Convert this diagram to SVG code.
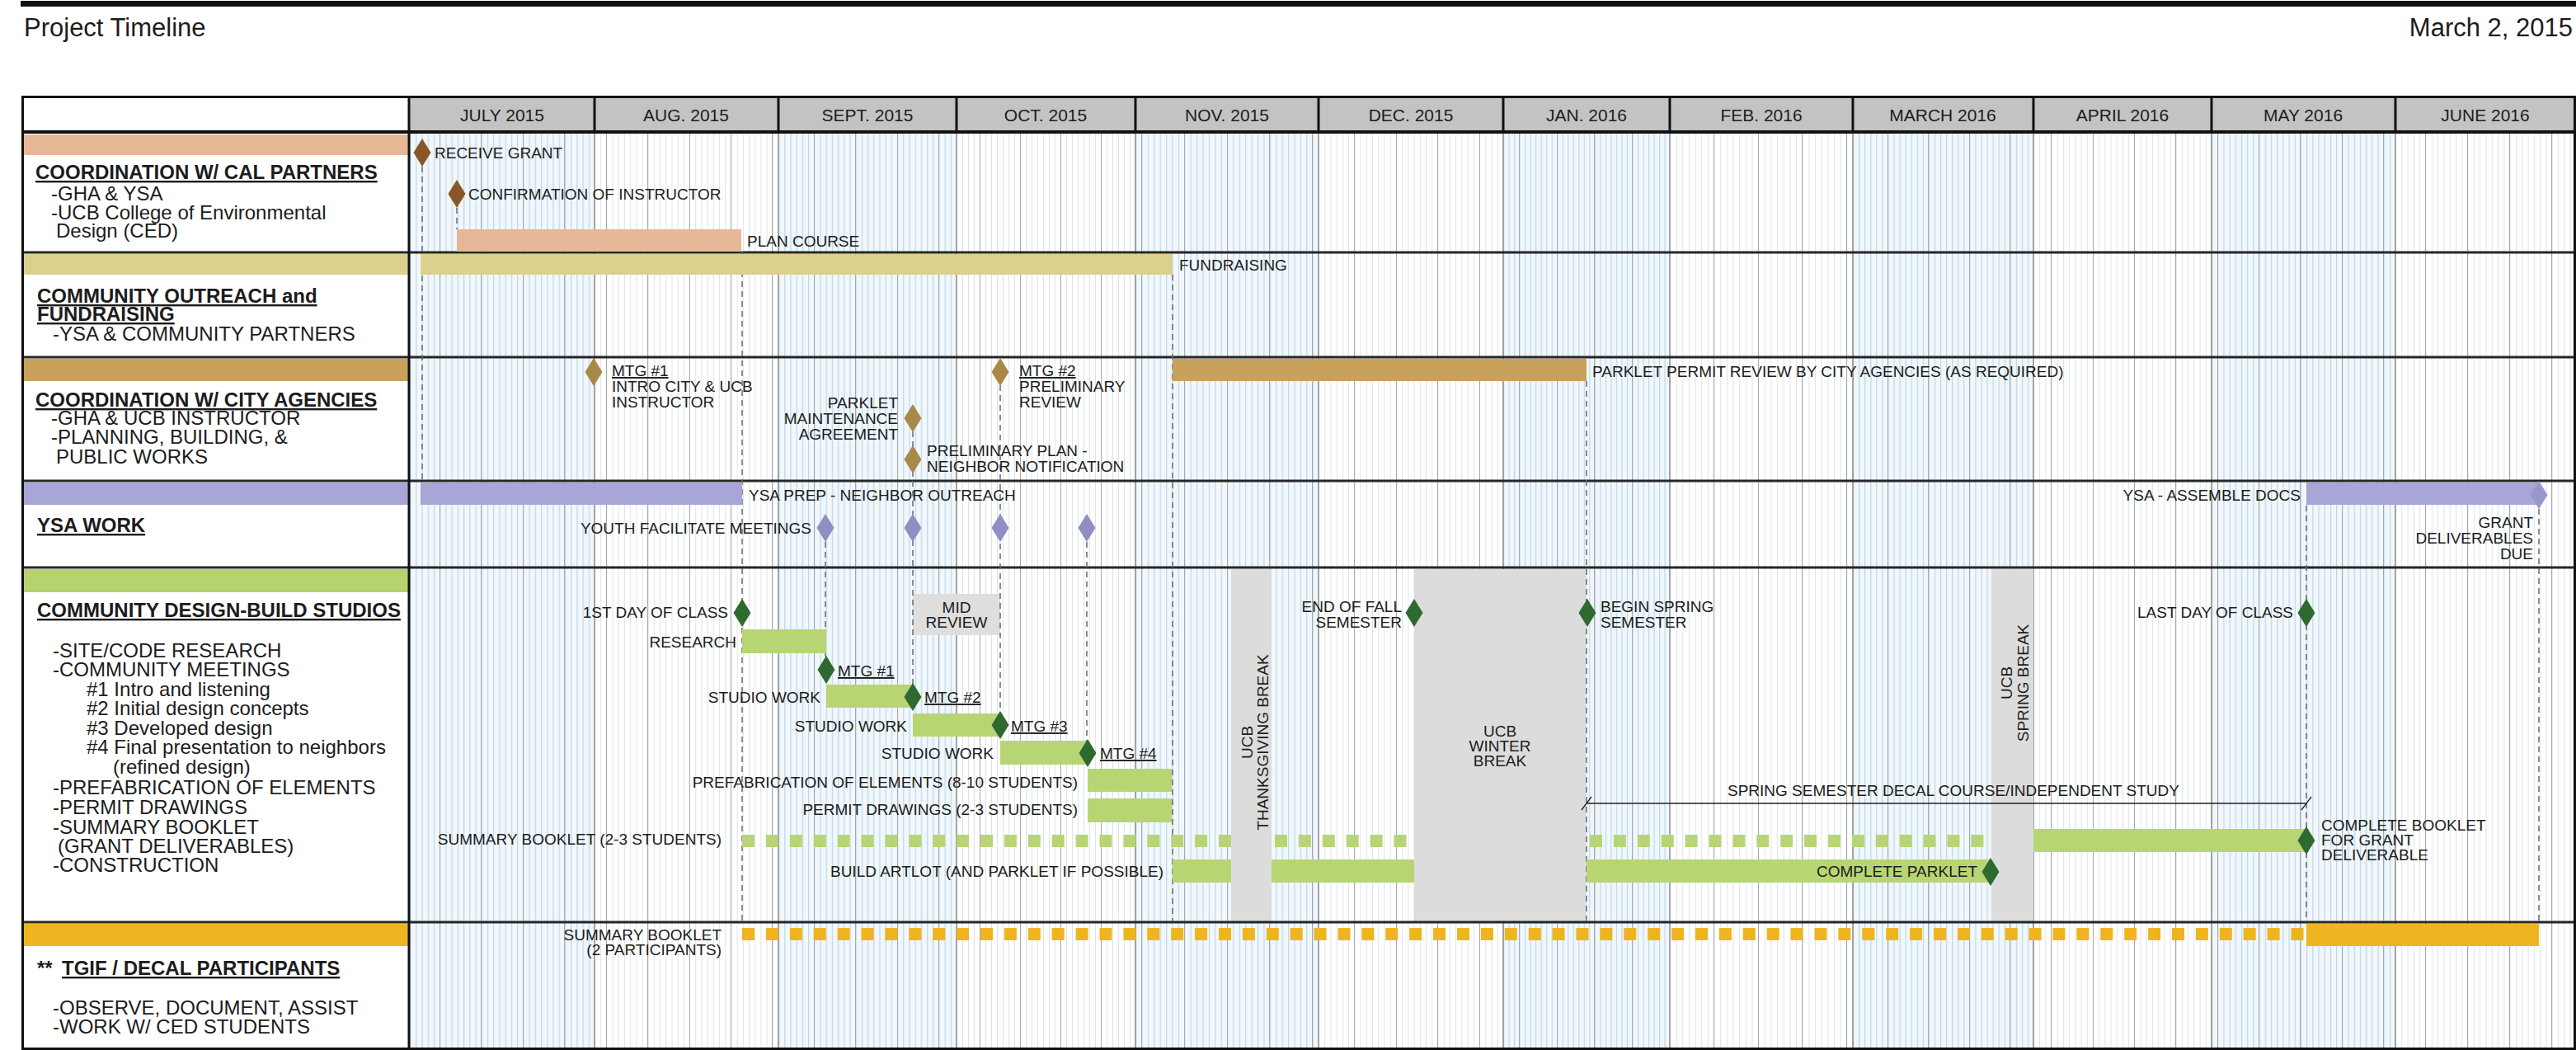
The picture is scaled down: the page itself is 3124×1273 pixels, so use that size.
<svg xmlns="http://www.w3.org/2000/svg" width="3124" height="1273" viewBox="0 0 3124 1273">
<style>
.t{font-family:"Liberation Sans",Arial,sans-serif;font-size:19px;fill:#1c1c1c}
.e{text-anchor:end}
.m{text-anchor:middle}
.u{text-decoration:underline}
.h{font-size:24px}
.hb{font-size:24px;font-weight:bold;text-decoration:underline}
.mon{font-size:21px;text-anchor:middle}
.conn{stroke:#6a6a6a;stroke-width:1.5;stroke-dasharray:7 5;fill:none}
.sep{stroke:#262626;stroke-width:3}
.brk{fill:#dcdcdc}
.gbar{fill:#b8d574}
</style>
<defs>
<path id="dia" d="M0,-17 L10.5,0 L0,17 L-10.5,0Z"/>
<pattern id="pJul" x="497" y="0" width="7.226" height="10" patternUnits="userSpaceOnUse"><rect width="1.2" height="10" fill="#bdd8e8"/></pattern>
<pattern id="pAug" x="721" y="0" width="7.194" height="10" patternUnits="userSpaceOnUse"><rect width="1" height="10" fill="#dde3e7"/></pattern>
<pattern id="pSep" x="944" y="0" width="7.2" height="10" patternUnits="userSpaceOnUse"><rect width="1.2" height="10" fill="#bdd8e8"/></pattern>
<pattern id="pOct" x="1160" y="0" width="7.0" height="10" patternUnits="userSpaceOnUse"><rect width="1" height="10" fill="#dde3e7"/></pattern>
<pattern id="pNov" x="1377" y="0" width="7.4" height="10" patternUnits="userSpaceOnUse"><rect width="1.2" height="10" fill="#bdd8e8"/></pattern>
<pattern id="pDec" x="1599" y="0" width="7.226" height="10" patternUnits="userSpaceOnUse"><rect width="1" height="10" fill="#dde3e7"/></pattern>
<pattern id="pJan" x="1823" y="0" width="6.516" height="10" patternUnits="userSpaceOnUse"><rect width="1.2" height="10" fill="#bdd8e8"/></pattern>
<pattern id="pFeb" x="2025" y="0" width="7.655" height="10" patternUnits="userSpaceOnUse"><rect width="1" height="10" fill="#dde3e7"/></pattern>
<pattern id="pMar" x="2247" y="0" width="7.065" height="10" patternUnits="userSpaceOnUse"><rect width="1.2" height="10" fill="#bdd8e8"/></pattern>
<pattern id="pApr" x="2466" y="0" width="7.2" height="10" patternUnits="userSpaceOnUse"><rect width="1" height="10" fill="#dde3e7"/></pattern>
<pattern id="pMay" x="2682" y="0" width="7.194" height="10" patternUnits="userSpaceOnUse"><rect width="1.2" height="10" fill="#bdd8e8"/></pattern>
<pattern id="pJun" x="2905" y="0" width="7.3" height="10" patternUnits="userSpaceOnUse"><rect width="1" height="10" fill="#dde3e7"/></pattern>
</defs>
<rect width="3124" height="1273" fill="#ffffff"/>
<rect x="25" y="1" width="3099" height="7" fill="#111"/>
<text class="t" x="29" y="44" style="font-size:31px">Project Timeline</text>
<text class="t e" x="3120" y="44" style="font-size:31px">March 2, 2015</text>

<g id="grid">
<g fill="#f1f7fb">
<rect x="497" y="162" width="224" height="1110"/>
<rect x="944" y="162" width="216" height="1110"/>
<rect x="1377" y="162" width="222" height="1110"/>
<rect x="1823" y="162" width="202" height="1110"/>
<rect x="2247" y="162" width="219" height="1110"/>
<rect x="2682" y="162" width="223" height="1110"/>
</g>
<rect x="497" y="162" width="224" height="1110" fill="url(#pJul)"/>
<rect x="721" y="162" width="223" height="1110" fill="url(#pAug)"/>
<rect x="944" y="162" width="216" height="1110" fill="url(#pSep)"/>
<rect x="1160" y="162" width="217" height="1110" fill="url(#pOct)"/>
<rect x="1377" y="162" width="222" height="1110" fill="url(#pNov)"/>
<rect x="1599" y="162" width="224" height="1110" fill="url(#pDec)"/>
<rect x="1823" y="162" width="202" height="1110" fill="url(#pJan)"/>
<rect x="2025" y="162" width="222" height="1110" fill="url(#pFeb)"/>
<rect x="2247" y="162" width="219" height="1110" fill="url(#pMar)"/>
<rect x="2466" y="162" width="216" height="1110" fill="url(#pApr)"/>
<rect x="2682" y="162" width="223" height="1110" fill="url(#pMay)"/>
<rect x="2905" y="162" width="219" height="1110" fill="url(#pJun)"/>
<path stroke="#a8a8a8" stroke-width="1" fill="none" d="M533.5 162V1272M583.5 162V1272M634.5 162V1272M684.5 162V1272M735.5 162V1272M785.5 162V1272M836.5 162V1272M886.5 162V1272M936.5 162V1272M987.5 162V1272M1037.5 162V1272M1088.5 162V1272M1138.5 162V1272M1188.5 162V1272M1237.5 162V1272M1286.5 162V1272M1335.5 162V1272M1384.5 162V1272M1436.5 162V1272M1488.5 162V1272M1539.5 162V1272M1591.5 162V1272M1642.5 162V1272M1693.5 162V1272M1743.5 162V1272M1794.5 162V1272M1842.5 162V1272M1888.5 162V1272M1933.5 162V1272M1979.5 162V1272M2078.5 162V1272M2132.5 162V1272M2185.5 162V1272M2239.5 162V1272M2289.5 162V1272M2338.5 162V1272M2388.5 162V1272M2437.5 162V1272M2487.5 162V1272M2538.5 162V1272M2588.5 162V1272M2638.5 162V1272M2689.5 162V1272M2739.5 162V1272M2789.5 162V1272M2840.5 162V1272M2890.5 162V1272M2941.5 162V1272M2992.5 162V1272M3043.5 162V1272M3094.5 162V1272"/>
<path stroke="#8c8c8c" stroke-width="1.5" fill="none" d="M721 162V1272M944 162V1272M1160 162V1272M1377 162V1272M1599 162V1272M1823 162V1272M2025 162V1272M2247 162V1272M2466 162V1272M2682 162V1272M2905 162V1272"/>
</g>

<g id="breaks">
<rect class="brk" x="1493" y="690" width="49" height="427"/>
<rect class="brk" x="1715" y="690" width="209" height="427"/>
<rect class="brk" x="2415" y="690" width="51" height="427"/>
<rect x="1107" y="720" width="106" height="50" fill="#dedede"/>
<text class="t m" x="1160" y="743">MID</text>
<text class="t m" x="1160" y="761">REVIEW</text>
<text class="t" transform="translate(1519,900) rotate(-90)" text-anchor="middle">UCB</text>
<text class="t" transform="translate(1538,900) rotate(-90)" text-anchor="middle">THANKSGIVING BREAK</text>
<text class="t m" x="1819" y="893">UCB</text>
<text class="t m" x="1819" y="911">WINTER</text>
<text class="t m" x="1819" y="929">BREAK</text>
<text class="t" transform="translate(2440,828) rotate(-90)" text-anchor="middle">UCB</text>
<text class="t" transform="translate(2460,828) rotate(-90)" text-anchor="middle">SPRING BREAK</text>
</g>

<g id="left-column">
<rect x="29" y="162" width="467" height="1110" fill="#ffffff"/>
<rect x="29" y="163" width="467" height="25" fill="#e6b898"/>
<rect x="29" y="308" width="467" height="25" fill="#dcd08e"/>
<rect x="29" y="435" width="467" height="27" fill="#c8a15b"/>
<rect x="29" y="585" width="467" height="27" fill="#a8a6d6"/>
<rect x="29" y="690" width="467" height="28" fill="#b6d36f"/>
<rect x="29" y="1120" width="467" height="27" fill="#efb520"/>
</g>

<g id="header">
<rect x="29" y="118" width="467" height="42" fill="#ffffff"/>
<rect x="497" y="118" width="2627" height="42" fill="#c3c3c3"/>
<path stroke="#111" stroke-width="3" d="M721 117V160M944 117V160M1160 117V160M1377 117V160M1599 117V160M1823 117V160M2025 117V160M2247 117V160M2466 117V160M2682 117V160M2905 117V160"/>
<text class="t mon" x="609" y="147">JULY 2015</text>
<text class="t mon" x="832" y="147">AUG. 2015</text>
<text class="t mon" x="1052" y="147">SEPT. 2015</text>
<text class="t mon" x="1268" y="147">OCT. 2015</text>
<text class="t mon" x="1488" y="147">NOV. 2015</text>
<text class="t mon" x="1711" y="147">DEC. 2015</text>
<text class="t mon" x="1924" y="147">JAN. 2016</text>
<text class="t mon" x="2136" y="147">FEB. 2016</text>
<text class="t mon" x="2356" y="147">MARCH 2016</text>
<text class="t mon" x="2574" y="147">APRIL 2016</text>
<text class="t mon" x="2793" y="147">MAY 2016</text>
<text class="t mon" x="3014" y="147">JUNE 2016</text>
</g>

<g id="frame">
<path class="sep" d="M27 306H3124M27 433H3124M27 583H3124M27 688H3124M27 1118H3124"/>
<path stroke="#111" stroke-width="4" fill="none" d="M27 160H3124"/>
<path stroke="#111" stroke-width="3" fill="none" d="M27 117.5H3124M27.5 116V1273M496 116V1273M3122.5 116V1273M27 1271.5H3124"/>
</g>

<g id="connectors">
<path class="conn" d="M512 202V585"/>
<path class="conn" d="M554 252V278"/>
<path class="conn" d="M900 305V1117"/>
<path class="conn" d="M1422 333V1117"/>
<path class="conn" d="M1001 657V797"/>
<path class="conn" d="M1107 523V830"/>
<path class="conn" d="M1213 467V864"/>
<path class="conn" d="M1318 657V898"/>
<path class="conn" d="M1924 462V1117"/>
<path class="conn" d="M2797 613V1117"/>
<path class="conn" d="M3079 617V1117"/>
</g>

<g id="cal-partners">
<text class="t hb" x="43" y="217">COORDINATION W/ CAL PARTNERS</text>
<text class="t h" x="62" y="243">-GHA &amp; YSA</text>
<text class="t h" x="62" y="266">-UCB College of Environmental</text>
<text class="t h" x="68" y="288">Design (CED)</text>
<g id="receive-grant"><use href="#dia" x="512" y="185" fill="#8a5628"/><text class="t" x="527" y="192">RECEIVE GRANT</text></g>
<g id="confirm-instructor"><use href="#dia" x="554" y="235" fill="#8a5628"/><text class="t" x="568" y="242">CONFIRMATION OF INSTRUCTOR</text></g>
<g id="plan-course"><rect x="554" y="278" width="345" height="27" fill="#e6b898"/><text class="t" x="906" y="299">PLAN COURSE</text></g>
</g>

<g id="outreach">
<text class="t hb" x="45" y="367">COMMUNITY OUTREACH and</text>
<text class="t hb" x="45" y="389">FUNDRAISING</text>
<text class="t h" x="64" y="413">-YSA &amp; COMMUNITY PARTNERS</text>
<g id="fundraising"><rect x="510" y="308" width="912" height="25" fill="#dcd08e"/><text class="t" x="1430" y="328">FUNDRAISING</text></g>
</g>

<g id="city-agencies">
<text class="t hb" x="43" y="493">COORDINATION W/ CITY AGENCIES</text>
<text class="t h" x="62" y="515">-GHA &amp; UCB INSTRUCTOR</text>
<text class="t h" x="62" y="538">-PLANNING, BUILDING, &amp;</text>
<text class="t h" x="68" y="562">PUBLIC WORKS</text>
<g id="city-mtg1"><use href="#dia" x="720" y="451" fill="#a88948"/><text class="t u" x="742" y="456">MTG #1</text><text class="t" x="742" y="475">INTRO CITY &amp; UCB</text><text class="t" x="742" y="494">INSTRUCTOR</text></g>
<g id="maintenance"><use href="#dia" x="1107" y="507" fill="#a88948"/><text class="t e" x="1089" y="495">PARKLET</text><text class="t e" x="1089" y="514">MAINTENANCE</text><text class="t e" x="1089" y="533">AGREEMENT</text></g>
<g id="prelim-plan"><use href="#dia" x="1107" y="557" fill="#a88948"/><text class="t" x="1124" y="553">PRELIMINARY PLAN -</text><text class="t" x="1124" y="572">NEIGHBOR NOTIFICATION</text></g>
<g id="city-mtg2"><use href="#dia" x="1213" y="451" fill="#a88948"/><text class="t u" x="1236" y="456">MTG #2</text><text class="t" x="1236" y="475">PRELIMINARY</text><text class="t" x="1236" y="494">REVIEW</text></g>
<g id="permit-review"><rect x="1422" y="435" width="502" height="27" fill="#c8a15b"/><text class="t" x="1931" y="457">PARKLET PERMIT REVIEW BY CITY AGENCIES (AS REQUIRED)</text></g>
</g>

<g id="ysa-work">
<text class="t hb" x="45" y="645">YSA WORK</text>
<g id="ysa-prep"><rect x="510" y="585" width="390" height="27" fill="#a8a6d6"/><text class="t" x="908" y="607">YSA PREP - NEIGHBOR OUTREACH</text></g>
<g id="youth-meetings"><text class="t e" x="984" y="647">YOUTH FACILITATE MEETINGS</text>
<use href="#dia" x="1001" y="640" fill="#908ec2"/><use href="#dia" x="1107" y="640" fill="#908ec2"/><use href="#dia" x="1213" y="640" fill="#908ec2"/><use href="#dia" x="1318" y="640" fill="#908ec2"/></g>
<g id="assemble-docs"><rect x="2797" y="585" width="282" height="27" fill="#a8a6d6"/><use href="#dia" x="3079" y="600" fill="#9a98cb"/><text class="t e" x="2790" y="607">YSA - ASSEMBLE DOCS</text></g>
<g id="grant-due"><text class="t e" x="3072" y="640">GRANT</text><text class="t e" x="3072" y="659">DELIVERABLES</text><text class="t e" x="3072" y="678">DUE</text></g>
</g>

<g id="studios">
<text class="t hb" x="45" y="748">COMMUNITY DESIGN-BUILD STUDIOS</text>
<text class="t h" x="64" y="797">-SITE/CODE RESEARCH</text>
<text class="t h" x="64" y="820">-COMMUNITY MEETINGS</text>
<text class="t h" x="105" y="844">#1 Intro and listening</text>
<text class="t h" x="105" y="867">#2 Initial design concepts</text>
<text class="t h" x="105" y="891">#3 Developed design</text>
<text class="t h" x="105" y="914">#4 Final presentation to neighbors</text>
<text class="t h" x="137" y="938">(refined design)</text>
<text class="t h" x="64" y="963">-PREFABRICATION OF ELEMENTS</text>
<text class="t h" x="64" y="987">-PERMIT DRAWINGS</text>
<text class="t h" x="64" y="1011">-SUMMARY BOOKLET</text>
<text class="t h" x="70" y="1034">(GRANT DELIVERABLES)</text>
<text class="t h" x="64" y="1057">-CONSTRUCTION</text>

<g id="research"><rect class="gbar" x="900" y="763" width="102" height="29"/><text class="t e" x="893" y="785">RESEARCH</text></g>
<g id="studio1"><rect class="gbar" x="1002" y="830" width="105" height="28"/><text class="t e" x="995" y="852">STUDIO WORK</text></g>
<g id="studio2"><rect class="gbar" x="1107" y="865" width="106" height="28"/><text class="t e" x="1100" y="887">STUDIO WORK</text></g>
<g id="studio3"><rect class="gbar" x="1213" y="898" width="106" height="29"/><text class="t e" x="1205" y="920">STUDIO WORK</text></g>
<g id="prefab"><rect class="gbar" x="1319" y="932" width="102" height="28"/><text class="t e" x="1307" y="955">PREFABRICATION OF ELEMENTS (8-10 STUDENTS)</text></g>
<g id="permit-drawings"><rect class="gbar" x="1319" y="968" width="102" height="29"/><text class="t e" x="1307" y="988">PERMIT DRAWINGS (2-3 STUDENTS)</text></g>
<g id="summary-booklet">
<path stroke="#b8d574" stroke-width="15" stroke-dasharray="15 13.9" fill="none" d="M900 1019.5H1493M1546 1019.5H1715M1928 1019.5H2415"/>
<rect class="gbar" x="2466" y="1005" width="331" height="28"/>
<text class="t e" x="875" y="1024">SUMMARY BOOKLET (2-3 STUDENTS)</text>
</g>
<g id="build"><rect class="gbar" x="1422" y="1042" width="71" height="28"/><rect class="gbar" x="1542" y="1042" width="173" height="28"/><rect class="gbar" x="1924" y="1042" width="490" height="28"/>
<text class="t e" x="1411" y="1063">BUILD ARTLOT (AND PARKLET IF POSSIBLE)</text></g>
<g id="decal-course"><path stroke="#222" stroke-width="1.3" fill="none" d="M1924 974H2797M1918 982L1930 966M2791 982L2803 966"/>
<text class="t" x="2095" y="965">SPRING SEMESTER DECAL COURSE/INDEPENDENT STUDY</text></g>

<g id="first-day"><use href="#dia" x="900" y="743" fill="#2e6930"/><text class="t e" x="883" y="749">1ST DAY OF CLASS</text></g>
<g id="studio-mtg1"><use href="#dia" x="1002" y="812" fill="#2e6930"/><text class="t u" x="1016" y="820">MTG #1</text></g>
<g id="studio-mtg2"><use href="#dia" x="1107" y="845" fill="#2e6930"/><text class="t u" x="1121" y="852">MTG #2</text></g>
<g id="studio-mtg3"><use href="#dia" x="1213" y="879" fill="#2e6930"/><text class="t u" x="1226" y="887">MTG #3</text></g>
<g id="studio-mtg4"><use href="#dia" x="1319" y="913" fill="#2e6930"/><text class="t u" x="1334" y="920">MTG #4</text></g>
<g id="end-fall"><use href="#dia" x="1715" y="743" fill="#2e6930"/><text class="t e" x="1700" y="742">END OF FALL</text><text class="t e" x="1700" y="761">SEMESTER</text></g>
<g id="begin-spring"><use href="#dia" x="1925" y="743" fill="#2e6930"/><text class="t" x="1941" y="742">BEGIN SPRING</text><text class="t" x="1941" y="761">SEMESTER</text></g>
<g id="last-day"><use href="#dia" x="2797" y="743" fill="#2e6930"/><text class="t e" x="2781" y="749">LAST DAY OF CLASS</text></g>
<g id="complete-parklet"><use href="#dia" x="2414" y="1057" fill="#2e6930"/><text class="t e" x="2398" y="1063">COMPLETE PARKLET</text></g>
<g id="complete-booklet"><use href="#dia" x="2797" y="1019" fill="#2e6930"/><text class="t" x="2815" y="1007">COMPLETE BOOKLET</text><text class="t" x="2815" y="1025">FOR GRANT</text><text class="t" x="2815" y="1043">DELIVERABLE</text></g>
</g>

<g id="tgif">
<text class="t" x="45" y="1182" style="font-size:24px;font-weight:bold">**</text>
<text class="t hb" x="75" y="1182">TGIF / DECAL PARTICIPANTS</text>
<text class="t h" x="64" y="1230">-OBSERVE, DOCUMENT, ASSIST</text>
<text class="t h" x="64" y="1253">-WORK W/ CED STUDENTS</text>
<g id="tgif-booklet">
<path stroke="#efb520" stroke-width="15" stroke-dasharray="15 13.9" fill="none" d="M900 1132.5H2797"/>
<rect x="2797" y="1120" width="282" height="27" fill="#efb520"/>
<text class="t e" x="875" y="1140">SUMMARY BOOKLET</text>
<text class="t e" x="875" y="1158">(2 PARTICIPANTS)</text>
</g>
</g>
</svg>
